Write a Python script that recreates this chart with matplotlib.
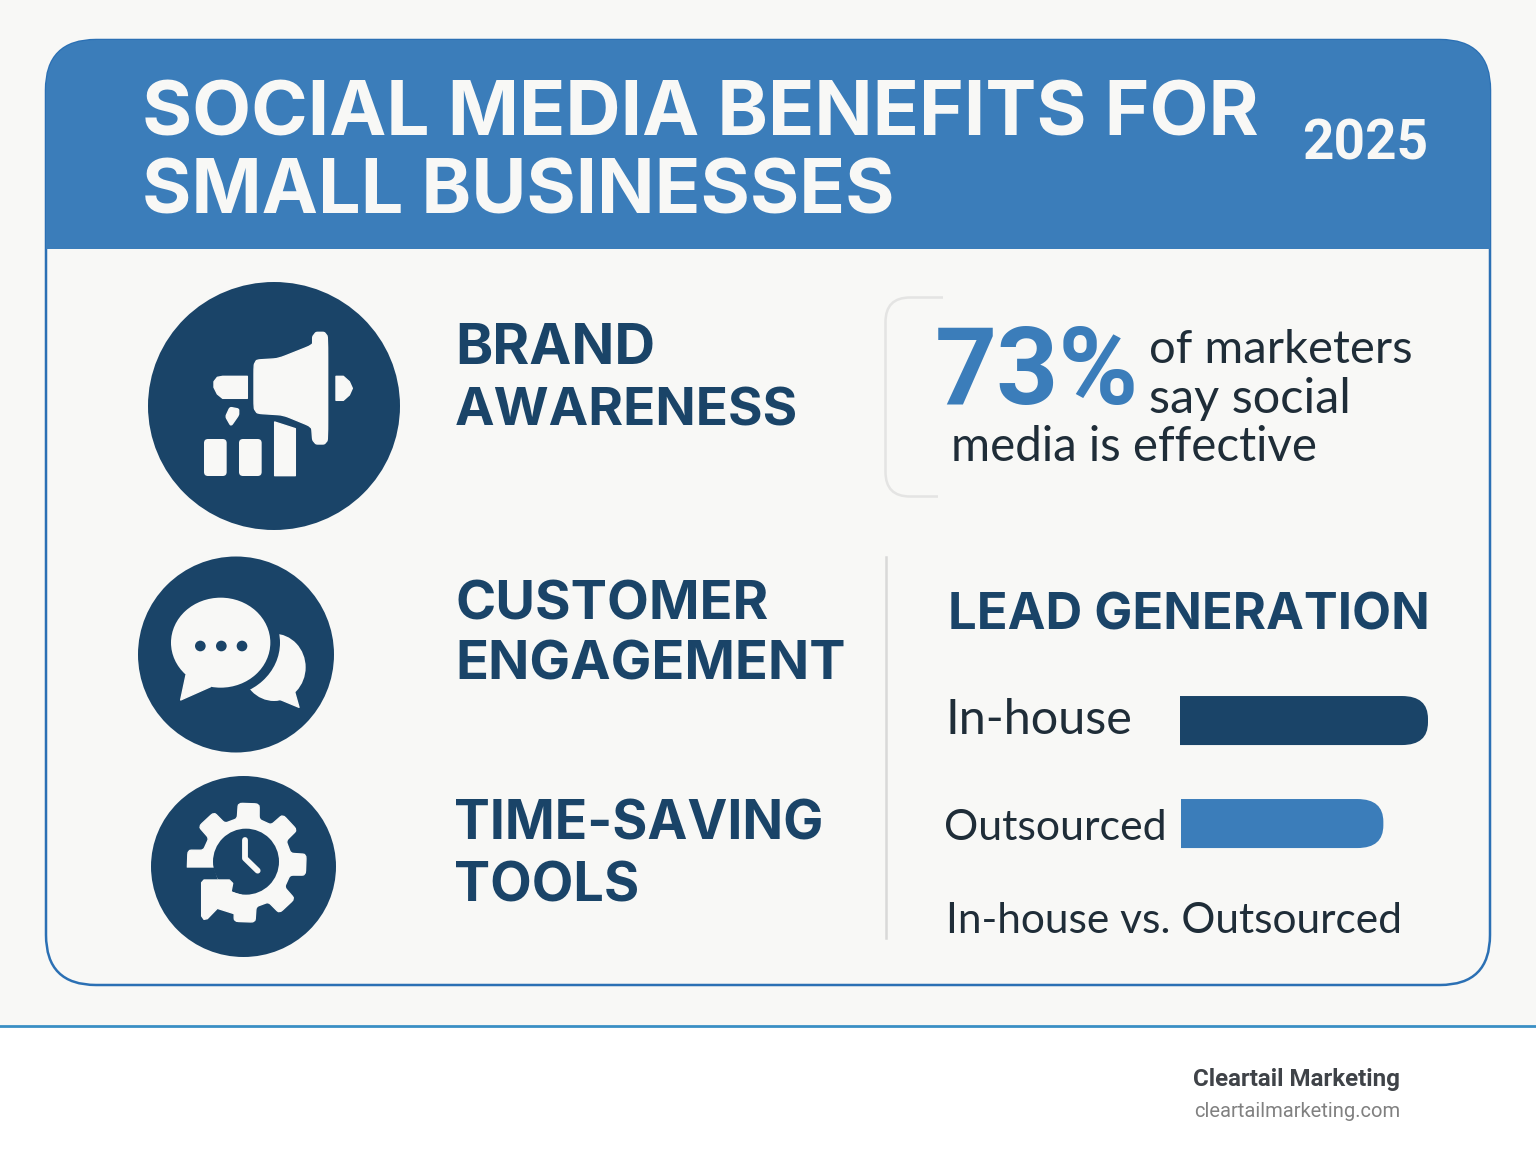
#!/usr/bin/env python3
"""
Social media benefits infographic, drawn in pixel coordinates.
"""

import numpy as np
import matplotlib
matplotlib.use('Agg')
import matplotlib.pyplot as plt
from matplotlib.patches import Circle, Ellipse, FancyBboxPatch, PathPatch, Polygon, Rectangle
from matplotlib.path import Path

W, H = 1536, 1154

# Data
title_lines = ["SOCIAL MEDIA BENEFITS FOR", "SMALL BUSINESSES"]
year_label = "2025"
benefit_lines = ["BRAND", "AWARENESS", "CUSTOMER", "ENGAGEMENT", "TIME-SAVING", "TOOLS"]
stat_value = "73%"
stat_lines = ["of marketers", "say social", "media is effective"]
lead_title = "LEAD GENERATION"
lead_labels = ["In-house", "Outsourced"]
lead_values = [100, 82]
lead_caption = "In-house vs. Outsourced"
brand_name = "Cleartail Marketing"
brand_url = "cleartailmarketing.com"

# Colours
BG = '#f8f8f6'
BLUE = '#3b7dba'
EDGE = '#2b70b4'
NAVY = '#1a4468'
INK = '#1f2d38'
TITLE_FONT = 'Inter'
BODY_FONT = 'Lato'

fig = plt.figure(figsize=(W / 100, H / 100), dpi=100, facecolor='white')
ax = fig.add_axes([0, 0, 1, 1])
ax.set_xlim(0, W)
ax.set_ylim(H, 0)
ax.axis('off')
renderer = fig.canvas.get_renderer()


def fit_text(s, x, baseline, width, color, family, weight='normal'):
    """Place text and scale its font so it spans the given pixel width."""
    t = ax.text(x, baseline, s, color=color, family=family, weight=weight,
                fontsize=40, ha='left', va='baseline', zorder=6)
    measured = t.get_window_extent(renderer).width
    t.set_fontsize(40 * width / measured)
    return t


def zoomed(points, ox, oy):
    return [(ox + px / 3, oy + py / 3) for px, py in points]


def smooth(points, cut=0.12, rounds=2):
    """Corner cutting, so the icon outlines come out soft."""
    pts = np.asarray(points, dtype=float)
    for _ in range(rounds):
        nxt = np.roll(pts, -1, axis=0)
        pts = np.column_stack([(1 - cut) * pts + cut * nxt, cut * pts + (1 - cut) * nxt]).reshape(-1, 2)
    return pts


def blob(points, color=BG, lw=1.0, z=4, soft=True):
    pts = smooth(points) if soft else points
    ax.add_patch(Polygon(pts, closed=True, facecolor=color, edgecolor=color,
                         linewidth=lw, joinstyle='round', zorder=z))


def right_rounded_path(x0, x1, y0, y1, rx, ry):
    verts = [(x0, y0), (x1 - rx, y0), (x1, y0), (x1, y0 + ry), (x1, y1 - ry),
             (x1, y1), (x1 - rx, y1), (x0, y1), (x0, y0)]
    codes = [Path.MOVETO, Path.LINETO, Path.CURVE3, Path.CURVE3, Path.LINETO,
             Path.CURVE3, Path.CURVE3, Path.LINETO, Path.CLOSEPOLY]
    return Path(verts, codes)


# Page background and footer
ax.add_patch(Rectangle((0, 0), W, 1025, facecolor=BG, edgecolor='none', zorder=0))
ax.plot([0, W], [1025.5, 1025.5], color='#3a8fc4', linewidth=2, zorder=1)

# Card with blue header clipped to the rounded outline
card = FancyBboxPatch((46, 40), 1444, 945, boxstyle='round,pad=0,rounding_size=50',
                      facecolor=BG, edgecolor=EDGE, linewidth=1.8, zorder=2)
ax.add_patch(card)
header = Rectangle((46, 40), 1444, 209, facecolor=BLUE, edgecolor='none', zorder=3)
ax.add_patch(header)
header.set_clip_path(card)

fit_text(title_lines[0], 142, 135, 1116, BG, TITLE_FONT, 'bold')
fit_text(title_lines[1], 142, 213, 751, BG, TITLE_FONT, 'bold')
fit_text(year_label, 1302, 159, 126, BG, 'Roboto', 'bold')

# Icon discs
ax.add_patch(Ellipse((274, 406), 252, 248, facecolor=NAVY, edgecolor='none', zorder=3))
ax.add_patch(Circle((236, 654.5), 98, facecolor=NAVY, edgecolor='none', zorder=3))
ax.add_patch(Ellipse((243.5, 866.5), 185, 181, facecolor=NAVY, edgecolor='none', zorder=3))

# Megaphone icon
ox, oy = 130, 270
blob(zoomed([(380, 270), (445, 266), (548, 225), (548, 200), (558, 187), (583, 187),
             (593, 200), (593, 510), (583, 522), (558, 522), (548, 510), (545, 470),
             (460, 435), (382, 430), (372, 415), (372, 285)], ox, oy))
blob(zoomed([(352, 319), (278, 319), (262, 322), (252, 335), (252, 352), (262, 372),
             (278, 385), (352, 385)], ox, oy), soft=False)
blob(zoomed([(618, 319), (640, 319), (658, 335), (667, 355), (658, 375), (640, 391),
             (618, 391)], ox, oy), soft=False)
blob(zoomed([(300, 412), (326, 417), (326, 435), (303, 468), (287, 440)], ox, oy))
for x0, x1 in [(222, 290), (327, 395)]:
    ax.add_patch(FancyBboxPatch((ox + x0 / 3, oy + 507 / 3), (x1 - x0) / 3, 111 / 3,
                                boxstyle='round,pad=0,rounding_size=4',
                                facecolor=BG, edgecolor='none', zorder=4))
blob(zoomed([(434, 456), (496, 476), (496, 617), (434, 617)], ox, oy), soft=False)

# Speech bubbles icon
ox, oy = 130, 550
ax.add_patch(Ellipse((ox + 432 / 3, oy + 352 / 3), 190 / 3, 202 / 3, facecolor=BG, zorder=4))
blob(zoomed([(430, 440), (507, 472), (488, 405)], ox, oy), z=4, soft=False)
ax.add_patch(Ellipse((ox + 272 / 3, oy + 278 / 3), 356 / 3, 324 / 3, facecolor=NAVY, zorder=4.1))
ax.add_patch(Ellipse((ox + 272 / 3, oy + 278 / 3), 298 / 3, 270 / 3, facecolor=BG, zorder=4.2))
blob(zoomed([(168, 375), (152, 450), (242, 410)], ox, oy), z=4.2, soft=False)
for cx in [211, 274, 336]:
    ax.add_patch(Circle((ox + cx / 3, oy + 288 / 3), 16 / 3, facecolor=NAVY, zorder=4.3))

# Gear and clock icon
ox, oy = 130, 550
gear_cx, gear_cy = ox + 350 / 3, oy + 938 / 3
gear_pts = []
for k in range(8):
    a = np.deg2rad(-90 + 45 * k + 2)
    for da, r in [(-14, 45), (-10, 60), (10, 60), (14, 45)]:
        ang = a + np.deg2rad(da)
        gear_pts.append((gear_cx + r * np.cos(ang), gear_cy + r * np.sin(ang)))
blob(gear_pts, z=4)
ax.add_patch(Circle((ox + 348 / 3, oy + 935 / 3), 33, facecolor=NAVY, zorder=4.1))
blob(zoomed([(150, 953), (252, 953), (262, 985), (300, 1030), (235, 1125), (150, 1125)], ox, oy),
     color=NAVY, lw=0, z=4.2, soft=False)
blob(zoomed([(222, 990), (298, 990), (308, 1000), (303, 1026), (345, 1040), (345, 1090),
             (325, 1095), (262, 1075), (232, 1106), (222, 1108), (215, 1098), (215, 998)], ox, oy),
     z=4.3, soft=False)
ax.plot([ox + 345 / 3, ox + 345 / 3, ox + 383 / 3],
        [oy + 870 / 3, oy + 925 / 3, oy + 962 / 3],
        color=BG, linewidth=4.2, solid_capstyle='round', solid_joinstyle='round', zorder=4.4)

# Benefit labels
benefit_pos = [(455, 364, 200), (455, 425, 343), (455, 619, 313),
               (455, 679, 390), (454, 839, 369), (454, 901, 185)]
for s, (x, y, w) in zip(benefit_lines, benefit_pos):
    fit_text(s, x, y, w, NAVY, TITLE_FONT, 'bold')

# Bracket behind the headline stat
bracket = Path([(943, 297.5), (910, 297.5), (885.5, 297.5), (885.5, 322), (885.5, 472),
                (885.5, 496.5), (910, 496.5), (938, 496.5)],
               [Path.MOVETO, Path.LINETO, Path.CURVE3, Path.CURVE3, Path.LINETO,
                Path.CURVE3, Path.CURVE3, Path.LINETO])
ax.add_patch(PathPatch(bracket, facecolor='none', edgecolor='#e4e4e3', linewidth=1.8, zorder=3))

fit_text(stat_value, 935, 404, 204, BLUE, 'Roboto', 'bold')
fit_text(stat_lines[0], 1149, 363, 263, INK, BODY_FONT)
fit_text(stat_lines[1], 1149, 413, 202, INK, BODY_FONT)
fit_text(stat_lines[2], 951, 461, 366, INK, BODY_FONT)

# Divider and lead generation block
ax.plot([885.5, 885.5], [557, 938], color='#d9d9d8', linewidth=1.8, zorder=3)
fit_text(lead_title, 948, 629, 481, NAVY, TITLE_FONT, 'bold')
fit_text(lead_labels[0], 945, 734, 187, INK, BODY_FONT)
fit_text(lead_labels[1], 944, 840, 223, INK, BODY_FONT)
fit_text(lead_caption, 946, 933, 457, INK, BODY_FONT)

# Bars on their own axes, so lengths come from the value scale
ax_bar = fig.add_axes([1180 / W, 1 - 860 / H, 248 / W, 175 / H])
ax_bar.set_xlim(0, 100)
ax_bar.set_ylim(1.354, -0.345)
ax_bar.axis('off')
ax_bar.patch.set_alpha(0)
bar_colors = [NAVY, BLUE]
for i, (value, color) in enumerate(zip(lead_values, bar_colors)):
    path = right_rounded_path(0.4 * i, value, i - 0.238, i + 0.238, 10.5, 0.22)
    ax_bar.add_patch(PathPatch(path, facecolor=color, edgecolor='none', zorder=5))

# Footer
fit_text(brand_name, 1193, 1086, 207, '#3f4348', 'Roboto', 'bold')
fit_text(brand_url, 1194, 1117, 206, '#808080', 'Roboto')

fig.savefig('out.png', dpi=100, facecolor='white')
plt.close(fig)
